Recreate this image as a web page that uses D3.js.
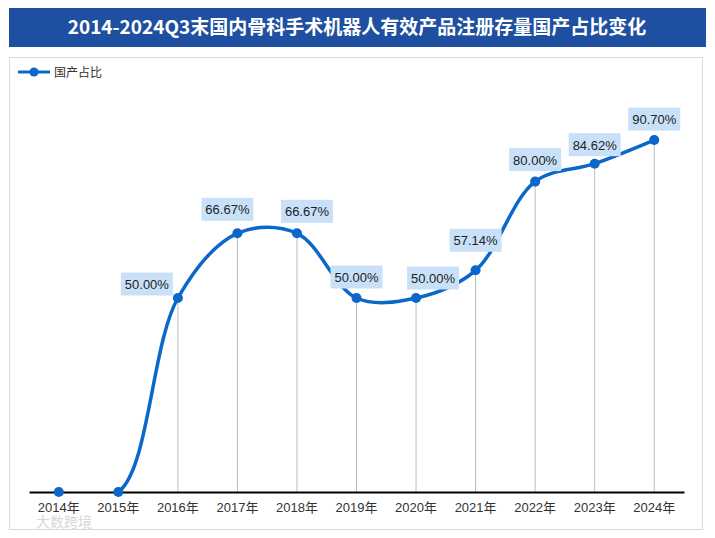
<!DOCTYPE html>
<html>
<head>
<meta charset="utf-8">
<title>国产占比变化</title>
<script src="https://d3js.org/d3.v7.min.js"></script>
<style>
    body { margin: 0; background: #fff; }
    text { font-family: "Liberation Sans", Arial, "Noto Sans CJK SC", sans-serif; }
    .title { font-family: "Noto Sans CJK SC", sans-serif; font-weight: bold; font-size: 19px; fill: #fff; }
    .tick-label { font-size: 13px; fill: #333; }
    .val-label { font-size: 13px; fill: #222; }
    .legend-text { font-family: "Noto Sans CJK SC", sans-serif; font-size: 12px; fill: #333; }
</style>
</head>
<body>
<svg width="715" height="538"></svg>
<script>
// data
const years = ["2014年", "2015年", "2016年", "2017年", "2018年", "2019年", "2020年", "2021年", "2022年", "2023年", "2024年"];
const share = [0, 0, 50.00, 66.67, 66.67, 50.00, 50.00, 57.14, 80.00, 84.62, 90.70];
const seriesName = "国产占比";
const titleText = "2014-2024Q3末国内骨科手术机器人有效产品注册存量国产占比变化";

// label nudges (px) so the boxes sit like the original
const labelDx = [0, 0, -31, -10, 10, 0, 17, 0, 0, 0, 0];
const labelDy = [0, 0, -14, -24, -22, -21, -20, -30, -22, -19, -21];

const blue = "#0b67c9";
const svg = d3.select("svg");

// title bar
svg.append("rect").attr("x", 9).attr("y", 8).attr("width", 697).attr("height", 39).attr("fill", "#1f4fa0");
svg.append("text").attr("class", "title").attr("x", 357).attr("y", 34).attr("text-anchor", "middle").text(titleText);

// chart frame
svg.append("rect").attr("x", 9.5).attr("y", 57.5).attr("width", 693).attr("height", 472)
    .attr("fill", "#fff").attr("stroke", "#d9d9d9");

// legend
svg.append("line").attr("x1", 18).attr("x2", 50).attr("y1", 72).attr("y2", 72).attr("stroke", blue).attr("stroke-width", 3);
svg.append("circle").attr("cx", 34).attr("cy", 72).attr("r", 4.5).attr("fill", blue);
svg.append("text").attr("class", "legend-text").attr("x", 54).attr("y", 76.5).text(seriesName);

const x = d3.scaleBand().domain(years).range([29, 684]);
const y = d3.scaleLinear().domain([0, 100]).range([492, 104]);
const cx = d => x(d) + x.bandwidth() / 2;

// plot area clip (curve must not dip under the axis)
svg.append("clipPath").attr("id", "plot")
    .append("rect").attr("x", 10).attr("y", 58).attr("width", 692).attr("height", y(0) - 58);

// drop lines
svg.append("g").selectAll("line").data(years).join("line")
    .attr("x1", d => cx(d)).attr("x2", d => cx(d))
    .attr("y1", (d, i) => y(share[i])).attr("y2", y(0))
    .attr("stroke", "#bdbdbd").attr("stroke-width", 1);

// line
const pts = years.map((d, i) => [cx(d), y(share[i])]);
svg.append("path").datum(pts)
    .attr("clip-path", "url(#plot)")
    .attr("d", d3.line().curve(d3.curveCatmullRom.alpha(0.5)))
    .attr("fill", "none").attr("stroke", blue).attr("stroke-width", 3.5);

// x axis
const xAxis = svg.append("g").attr("transform", `translate(0,${y(0)})`)
    .call(d3.axisBottom(x).tickSize(0).tickPadding(11));
xAxis.select(".domain").attr("stroke", "#000").attr("stroke-width", 2);
xAxis.selectAll("text").attr("class", "tick-label").attr("font-size", null).attr("font-family", null).attr("fill", null);

svg.append("g").selectAll("circle").data(pts).join("circle")
    .attr("cx", d => d[0]).attr("cy", d => d[1]).attr("r", 5).attr("fill", blue);

// value labels
const lab = svg.append("g").selectAll("g").data(years.map((d, i) => i).filter(i => share[i] > 0)).join("g")
    .attr("transform", i => `translate(${pts[i][0] + labelDx[i]},${pts[i][1] + labelDy[i]})`);
lab.append("rect").attr("x", -26).attr("y", -11.5).attr("width", 52).attr("height", 23).attr("fill", "#c9e1f8");
lab.append("text").attr("class", "val-label").attr("text-anchor", "middle").attr("y", 5)
    .text(i => share[i].toFixed(2) + "%");

// watermark
svg.append("text").attr("x", 36).attr("y", 527).attr("font-family", "Noto Sans CJK SC").attr("font-size", 14)
    .attr("fill", "#d8d8d8").text("大数跨境");
</script>
</body>
</html>
